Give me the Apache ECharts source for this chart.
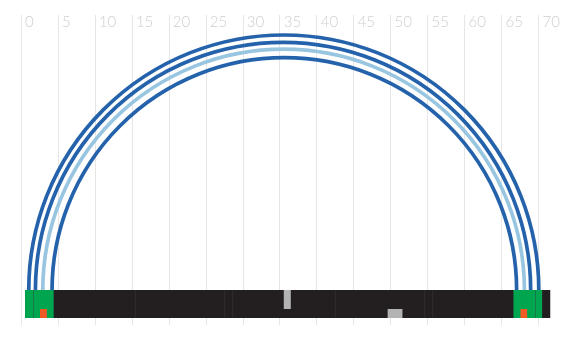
<!DOCTYPE html>
<html>
<head>
<meta charset="utf-8">
<script src="https://cdn.jsdelivr.net/npm/echarts@6/dist/echarts.min.js"></script>
<style>html,body{margin:0;padding:0;background:#fff}#c{width:568px;height:338px}</style>
</head>
<body>
<div id="c"></div>
<script>
// ---- data (positions along the sequence, axis units) ----
const chromosome = [[0.55, 71.6]];
const contigBreaks = [1.58, 15.45, 27.47, 28.55, 42.47, 54.5, 55.55, 69.55];
const greenRegions = [[0.55, 4.42], [66.62, 70.5]];
const orangeMarks = [[2.57, 3.5], [67.57, 68.47]];
const grayUpper = [[35.55, 36.5]];
const grayLower = [[49.6, 51.6]];
// links: [start, end, kind]  kind 0 = dark, 1 = light
const links = [
  [1.05, 70.05, 0],
  [1.95, 68.95, 0],
  [2.95, 68.1, 1],
  [4.2, 67.05, 0]
];

// ---- layout / style ----
const LANE = { bottom: 7, mid: 16, top: 35 };
const linkColors = ['#2462ab', '#98c6e1'];

function rectSeries(name, data, yLo, yHi, color, z) {
  return {
    type: 'custom', name: name, data: data, z: z, clip: false, silent: true,
    encode: { x: [0, 1] },
    renderItem: function (params, api) {
      const a = api.coord([api.value(0), yHi]);
      const b = api.coord([api.value(1), yLo]);
      return { type: 'rect', shape: { x: a[0], y: a[1], width: b[0] - a[0], height: b[1] - a[1] },
        style: { fill: color } };
    }
  };
}

const chart = echarts.init(document.getElementById('c'), null, { renderer: 'canvas' });
chart.setOption({
  animation: false,
  grid: { left: 21, right: 0, top: 15, bottom: 13 },
  xAxis: {
    type: 'value', position: 'top', min: 0, max: 74, interval: 5,
    axisLine: { show: false }, axisTick: { show: false },
    splitLine: { show: true, lineStyle: { color: '#e6e6e6', width: 1 } },
    axisLabel: {
      inside: true, align: 'left', verticalAlign: 'top', margin: 0,
      padding: [0, 0, 0, 4], showMaxLabel: false,
      color: '#cfcfcf', fontSize: 15, fontFamily: 'Lato', fontWeight: 300
    }
  },
  yAxis: { type: 'value', min: 0, max: 310, show: false },
  series: [
    {
      type: 'custom', name: 'links', data: links, z: 2, clip: false, silent: true,
      encode: { x: [0, 1] },
      renderItem: function (params, api) {
        const a = api.coord([api.value(0), LANE.top]);
        const b = api.coord([api.value(1), LANE.top]);
        return { type: 'arc',
          shape: { cx: (a[0] + b[0]) / 2, cy: a[1], r: (b[0] - a[0]) / 2, startAngle: Math.PI, endAngle: 2 * Math.PI, clockwise: true },
          style: { stroke: linkColors[api.value(2)], lineWidth: 3.7, fill: null } };
      }
    },
    rectSeries('chromosome', chromosome, LANE.bottom, LANE.top, '#231f20', 3),
    rectSeries('green', greenRegions, LANE.bottom, LANE.top, '#00a64f', 4),
    {
      type: 'custom', name: 'breaks', data: contigBreaks.map(v => [v]), z: 5, clip: false, silent: true,
      encode: { x: 0 },
      renderItem: function (params, api) {
        const a = api.coord([api.value(0), LANE.top]);
        const b = api.coord([api.value(0), LANE.bottom]);
        const x = Math.round(a[0]) + 0.5;
        return { type: 'line', shape: { x1: x, y1: a[1], x2: x, y2: b[1] },
          style: { stroke: 'rgba(60,60,60,0.4)', lineWidth: 1 } };
      }
    },
    rectSeries('orange', orangeMarks, LANE.bottom, LANE.mid, '#f15a24', 6),
    rectSeries('grayUpper', grayUpper, LANE.mid, LANE.top, '#b3b3b3', 6),
    rectSeries('grayLower', grayLower, LANE.bottom, LANE.mid, '#b3b3b3', 6)
  ]
});
</script>
</body>
</html>
